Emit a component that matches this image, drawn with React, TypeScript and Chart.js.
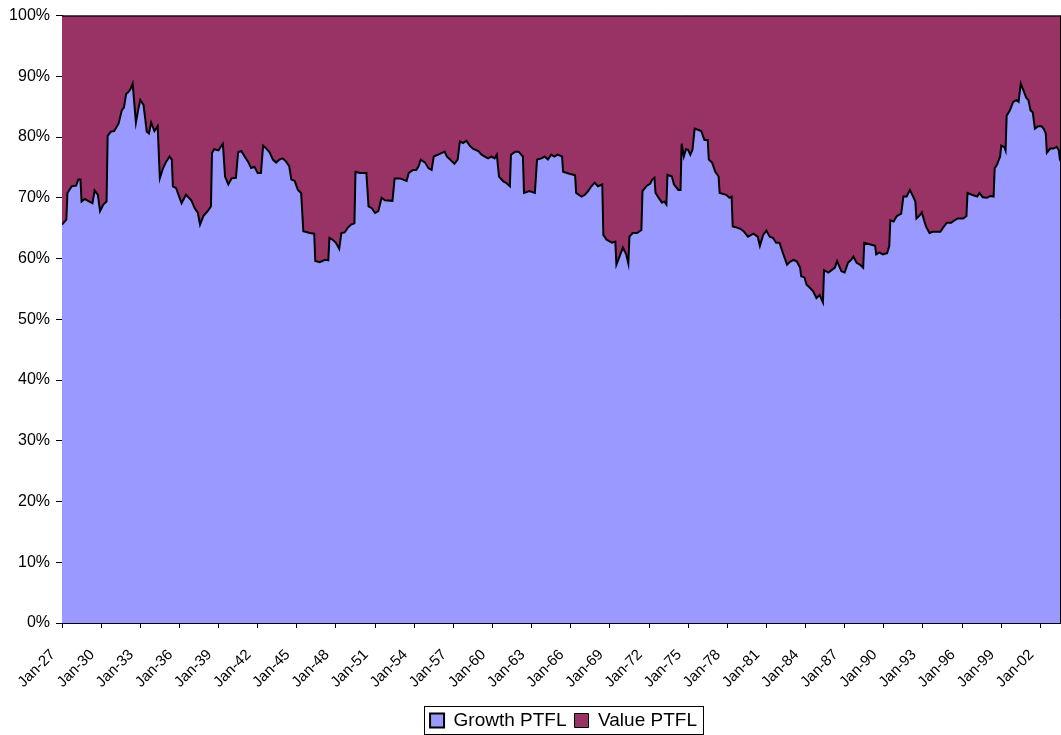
import React, { useEffect, useRef } from 'react';
import { Chart, registerables } from 'chart.js';

Chart.register(...registerables);

// Months elapsed since Jan-1927 (monthly series, sampled where the curve turns)
const monthIndex = [
  0, 4, 5, 9, 13, 15, 17, 18, 21, 24,
  28, 30, 33, 35, 38, 41, 42, 45, 48, 52,
  55, 57, 59, 61, 63, 65, 68, 70, 72, 75,
  78, 80, 82, 85, 88, 90, 93, 96, 99, 101,
  102, 105, 110, 114, 119, 122, 125, 127, 130, 134,
  137, 138, 140, 144, 146, 148, 150, 153, 156, 160,
  162, 165, 168, 171, 174, 177, 180, 183, 185, 188,
  191, 194, 197, 200, 203, 206, 209, 211, 214, 217,
  220, 222, 228, 232, 233, 237, 242, 245, 246, 249,
  252, 255, 257, 260, 263, 266, 269, 270, 274, 280,
  282, 285, 288, 291, 294, 297, 304, 306, 311, 317,
  319, 323, 326, 328, 330, 334, 337, 340, 342, 346,
  352, 354, 357, 361, 364, 366, 369, 372, 375, 378,
  383, 386, 389, 392, 395, 398, 400, 402, 406, 409,
  412, 413, 417, 420, 424, 425, 430, 435, 437, 441,
  444, 447, 450, 453, 456, 460, 461, 466, 472, 473,
  478, 481, 484, 487, 490, 493, 497, 498, 501, 506,
  509, 510, 513, 516, 519, 521, 522, 525, 529, 533,
  534, 538, 541, 543, 545, 546, 550, 552, 554, 556,
  557, 561, 563, 567, 569, 570, 572, 574, 576, 578,
  580, 582, 585, 588, 591, 594, 595, 598, 601, 604,
  605, 611, 614, 616, 617, 621, 624, 627, 631, 636,
  640, 642, 645, 648, 651, 654, 657, 660, 663, 667,
  670, 673, 676, 679, 680, 683, 685, 688, 691, 694,
  697, 700, 701, 705, 708, 711, 713, 717, 720, 723,
  726, 728, 731, 734, 737, 738, 742, 748, 749, 752,
  755, 759, 761, 762, 765, 768, 772, 774, 777, 780,
  783, 785, 786, 789, 791, 793, 795, 798, 801, 808,
  811, 814, 818, 821, 824, 829, 832, 833, 837, 842,
  844, 847, 851, 854, 857, 858, 860, 863, 864, 867,
  868, 869, 872, 875, 878, 880, 882, 884, 887, 889,
  891, 893, 895, 898, 901, 903, 905, 906, 909, 912,
  915, 917, 918, 919,
];

// Growth portfolio share (%) at each month above
const growthShare = [
  65.6, 66.4, 70.8, 71.9, 72.0, 73.0, 73.0, 69.4, 69.8, 69.5,
  69.1, 71.2, 70.5, 67.8, 68.9, 69.4, 80.2, 80.9, 81.0, 82.2,
  84.4, 84.9, 87.1, 87.4, 87.9, 88.8, 82.4, 84.4, 86.1, 85.3,
  80.9, 80.6, 82.4, 81.0, 81.8, 73.2, 74.9, 76.0, 76.8, 76.3,
  71.9, 71.6, 69.1, 70.5, 69.6, 68.3, 67.5, 65.6, 67.0, 67.8,
  68.6, 77.4, 78.0, 77.8, 78.4, 78.9, 73.5, 72.2, 73.2, 73.3,
  77.5, 77.7, 76.8, 76.0, 74.9, 75.1, 74.1, 74.1, 78.6, 78.1,
  77.5, 76.3, 75.8, 76.3, 76.5, 76.0, 75.2, 73.0, 72.8, 71.3,
  70.8, 64.5, 64.2, 64.1, 59.6, 59.4, 59.8, 59.7, 63.4, 63.1,
  62.6, 61.6, 64.2, 64.3, 65.1, 65.6, 65.8, 74.3, 74.1, 74.1,
  68.6, 68.3, 67.5, 67.8, 70.0, 69.6, 69.5, 73.2, 73.2, 72.8,
  74.1, 74.6, 74.6, 75.2, 76.3, 75.8, 74.9, 74.6, 76.8, 77.1,
  77.6, 76.8, 76.3, 75.6, 76.3, 79.3, 79.0, 79.4, 78.6, 78.1,
  77.7, 77.1, 76.8, 76.5, 76.8, 76.5, 77.1, 73.5, 72.7, 72.4,
  71.9, 77.1, 77.6, 77.6, 76.8, 70.8, 71.1, 70.8, 76.3, 76.5,
  76.8, 76.3, 77.1, 76.8, 77.1, 76.8, 74.3, 74.0, 73.7, 70.8,
  70.2, 70.5, 71.1, 71.9, 72.5, 71.9, 72.2, 63.9, 63.1, 62.6,
  62.8, 59.0, 60.4, 61.8, 60.7, 59.2, 63.6, 64.2, 64.2, 64.7,
  71.1, 72.0, 72.3, 73.0, 73.3, 70.8, 69.7, 69.2, 69.4, 68.9,
  73.8, 73.5, 72.2, 71.3, 71.3, 78.9, 76.8, 78.0, 77.9, 77.1,
  77.9, 81.4, 81.2, 81.0, 79.5, 79.5, 76.3, 75.8, 74.3, 73.5,
  70.8, 70.5, 70.0, 70.2, 65.3, 65.1, 64.9, 64.5, 63.6, 64.1,
  63.6, 62.1, 63.9, 64.6, 63.6, 63.4, 62.6, 62.6, 61.0, 59.0,
  59.5, 59.8, 59.5, 58.5, 57.1, 56.9, 55.7, 55.2, 54.6, 53.5,
  54.0, 52.8, 58.1, 57.7, 58.1, 58.5, 59.6, 57.9, 57.7, 59.3,
  59.8, 60.3, 59.3, 59.0, 58.5, 62.6, 62.4, 62.1, 60.7, 61.0,
  60.7, 60.9, 62.0, 66.3, 66.1, 67.0, 67.4, 70.2, 70.2, 71.3,
  70.2, 69.4, 66.6, 67.1, 67.6, 66.3, 65.2, 64.2, 64.4, 64.4,
  65.2, 65.9, 65.9, 66.3, 66.6, 66.6, 67.0, 70.8, 70.5, 70.2,
  70.8, 70.1, 70.0, 70.3, 70.2, 74.9, 75.4, 76.8, 78.6, 78.3,
  77.8, 83.5, 84.4, 85.8, 86.1, 85.8, 88.8, 87.9, 86.5, 86.1,
  84.4, 84.1, 81.4, 81.8, 81.8, 81.4, 80.6, 77.4, 78.1, 78.1,
  78.4, 77.8, 76.3, 76.0,
];

// Value portfolio share: the remainder of the 100% stack
const valueShare = growthShare.map((g) => Math.round((100 - g) * 10) / 10);

const seriesNames = ['Growth PTFL', 'Value PTFL'];
const seriesColors = ['#9999FF', '#993366'];

const tickLabels = [
  'Jan-27', 'Jan-30', 'Jan-33', 'Jan-36', 'Jan-39', 'Jan-42', 'Jan-45',
  'Jan-48', 'Jan-51', 'Jan-54', 'Jan-57', 'Jan-60', 'Jan-63', 'Jan-66',
  'Jan-69', 'Jan-72', 'Jan-75', 'Jan-78', 'Jan-81', 'Jan-84', 'Jan-87',
  'Jan-90', 'Jan-93', 'Jan-96', 'Jan-99', 'Jan-02',
];
const tickStepMonths = 36;
const lastMonth = 919;

const FONT = '"Liberation Sans", Arial, sans-serif';

const LEGEND_SHIFT_X = 33;
const LEGEND_SHIFT_Y = 5;

const framePlugin = {
  id: 'frame',
  afterLayout(chart: any) {
    const lg = chart.legend;
    if (!lg) return;
    lg.left += LEGEND_SHIFT_X;
    lg.right += LEGEND_SHIFT_X;
    lg.top += LEGEND_SHIFT_Y;
    lg.bottom += LEGEND_SHIFT_Y;
  },
  afterDatasetsDraw(chart: any) {
    const { ctx, chartArea: a } = chart;
    ctx.save();
    ctx.strokeStyle = '#000';
    ctx.lineWidth = 1;
    ctx.beginPath();
    ctx.moveTo(a.left, a.top + 0.5);
    ctx.lineTo(a.right, a.top + 0.5);
    ctx.moveTo(a.right - 0.5, a.top);
    ctx.lineTo(a.right - 0.5, a.bottom);
    ctx.stroke();
    ctx.restore();
  },
  afterDraw(chart: any) {
    const lg = chart.legend;
    if (!lg || !lg.legendHitBoxes || !lg.legendHitBoxes.length) return;
    const boxes = lg.legendHitBoxes;
    let l = Infinity, t = Infinity, r = -Infinity, b = -Infinity;
    boxes.forEach((h: any) => {
      l = Math.min(l, h.left);
      t = Math.min(t, h.top);
      r = Math.max(r, h.left + h.width);
      b = Math.max(b, h.top + h.height);
    });
    const { ctx } = chart;
    ctx.save();
    ctx.strokeStyle = '#000';
    ctx.lineWidth = 1;
    ctx.strokeRect(Math.round(l - 6) + 0.5, Math.round(t - 5) + 0.5, Math.round(r - l + 12), Math.round(b - t + 9));
    ctx.restore();
  },
};

export default function App() {
  const ref = useRef<HTMLCanvasElement | null>(null);

  useEffect(() => {
    if (!ref.current) return;
    const chart = new Chart(ref.current, {
      type: 'line',
      data: {
        datasets: [
          {
            label: seriesNames[0],
            data: monthIndex.map((m, i) => ({ x: m, y: growthShare[i] })),
            backgroundColor: seriesColors[0],
            borderColor: '#000',
            borderWidth: 2,
            fill: 'origin',
            pointRadius: 0,
            tension: 0,
          },
          {
            label: seriesNames[1],
            data: monthIndex.map((m, i) => ({ x: m, y: valueShare[i] })),
            backgroundColor: seriesColors[1],
            borderColor: '#000',
            borderWidth: 1,
            fill: '-1',
            pointRadius: 0,
            tension: 0,
          },
        ],
      },
      options: {
        responsive: false,
        animation: false,
        layout: { padding: { top: 15, left: 0, right: 0, bottom: 0 } },
        plugins: {
          legend: {
            display: true,
            position: 'bottom',
            labels: {
              boxWidth: 14,
              boxHeight: 14,
              padding: 8,
              color: '#000',
              font: { family: FONT, size: 19 },
            },
          },
          tooltip: { enabled: false },
        },
        scales: {
          x: {
            type: 'linear',
            min: 0,
            max: lastMonth,
            afterBuildTicks(scale: any) {
              scale.ticks = tickLabels.map((_, i) => ({ value: i * tickStepMonths }));
            },
            afterFit(scale: any) {
              const lh = scale.chart.legend ? scale.chart.legend.height : 34;
              scale.height = 735 - lh - 623;
              scale.paddingLeft = 0;
              scale.paddingRight = 0;
            },
            ticks: {
              autoSkip: false,
              minRotation: 45,
              maxRotation: 45,
              padding: 18,
              labelOffset: -9,
              color: '#000',
              font: { family: FONT, size: 15 },
              callback: (_v: any, i: number) => tickLabels[i],
            },
            grid: {
              drawOnChartArea: false,
              drawTicks: true,
              tickLength: 5,
              color: '#000',
            },
            border: { display: true, color: '#000', width: 1 },
          },
          y: {
            stacked: true,
            min: 0,
            max: 100,
            afterFit(scale: any) {
              scale.width = 62;
            },
            ticks: {
              stepSize: 10,
              padding: 6,
              color: '#000',
              font: { family: FONT, size: 16 },
              callback: (v: any) => `${v}%`,
            },
            grid: {
              drawOnChartArea: false,
              drawTicks: true,
              tickLength: 6,
              color: '#000',
            },
            border: { display: true, color: '#000', width: 1 },
          },
        },
      },
      plugins: [framePlugin],
    } as any);
    return () => chart.destroy();
  }, []);

  return (
    <div style={{ position: 'absolute', left: 0, top: 0, width: 1061, height: 735, background: '#fff' }}>
      <canvas ref={ref} width={1061} height={735} style={{ display: 'block' }} />
    </div>
  );
}
